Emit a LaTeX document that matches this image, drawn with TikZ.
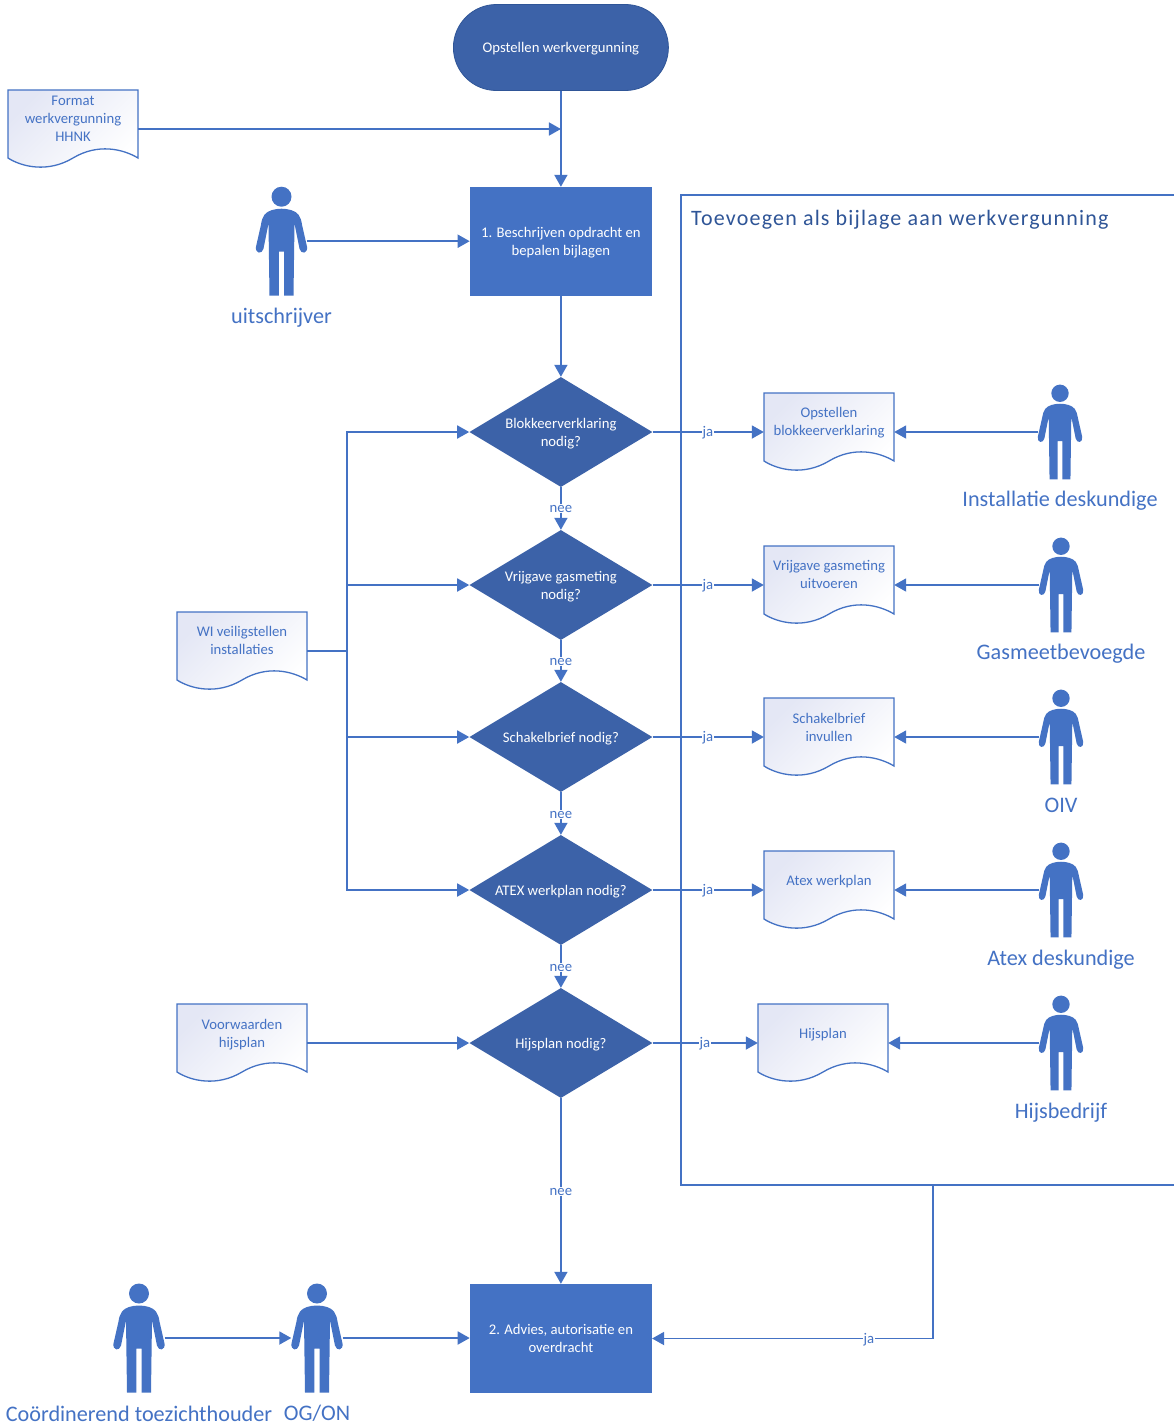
\documentclass[tikz,border=0pt]{standalone}
\usepackage{fontspec}
\setmainfont{Carlito}
\usetikzlibrary{shapes.geometric,arrows.meta,shadings}
\definecolor{mainblue}{HTML}{4472C4}
\definecolor{darkblue}{HTML}{3C62A8}
\definecolor{titleblue}{HTML}{2F5597}
\definecolor{docshade}{HTML}{E4E7F5}
\newcommand{\lowered}[1]{\raisebox{-1.5pt}[\height][\depth]{\begin{tabular}{@{}c@{}}#1\end{tabular}}}
\tikzset{
  flow/.style={draw=mainblue,line width=1.8pt,-{Triangle[length=12pt,width=13pt]}},
  plainline/.style={draw=mainblue,line width=1.8pt},
  procbox/.style={fill=mainblue,draw=none,text=white,minimum width=182pt,minimum height=109pt,inner sep=0pt,align=center,font=\fontsize{14.7}{18}\selectfont},
  decision/.style={diamond,aspect=1.65,fill=darkblue,draw=none,text=white,minimum width=183pt,minimum height=110pt,inner sep=0pt,align=center,font=\fontsize{14.7}{18}\selectfont},
  terminal/.style={fill=darkblue,draw=titleblue,line width=0.8pt,text=white,rounded corners=43pt,minimum width=215pt,minimum height=86pt,inner sep=0pt,font=\fontsize{14.7}{18}\selectfont},
  doctext/.style={text=mainblue,align=center,inner sep=0pt,font=\fontsize{14.7}{18}\selectfont},
  docbox/.style={inner sep=0pt,minimum width=130pt,minimum height=78pt},
  personbox/.style={inner sep=0pt},
  personlabel/.style={text=mainblue,inner sep=0pt,font=\fontsize{22.2}{24}\selectfont},
  edgelabel/.style={fill=white,text=mainblue,inner sep=1pt,font=\fontsize{14.7}{16}\selectfont},
}
% name, left x, top y, text, text centre offset from top
\newcommand{\docshape}[5]{%
  \begin{scope}[shift={(#2,#3)}]
  \path[shade,shading=axis,top color=docshade,bottom color=white,shading angle=45,draw=mainblue,line width=1.3pt]
    (0,0) -- (130,0) -- (130,68)
    .. controls (115,59) and (90,53) .. (65,68)
    .. controls (40,83) and (14,77) .. (0,68) -- cycle;
  \end{scope}
  \node[docbox] (#1) at (#2+65,#3+39) {};
  \node[doctext] (#1t) at (#2+65,#3+#5) {#4};
}
% name, cx, cy, scale, label, label y
\newcommand{\personshape}[6]{%
  \begin{scope}[shift={(#2,#3)},scale=#4,shift={(0,-54.5)}]
    \fill[mainblue] (0,10) ellipse [x radius=10,y radius=10];
    \fill[mainblue] (0,22) .. controls (7,22) and (14,24) .. (17,28)
      .. controls (19,31) and (20,34) .. (20.5,38) -- (25.5,60)
      .. controls (26.5,67) and (19.5,68) .. (18,62) -- (13,37) -- (12,109)
      -- (2.7,109) -- (2.7,65) -- (-2.7,65) -- (-2.7,109) -- (-12,109) -- (-13,37)
      -- (-18,62) .. controls (-19.5,68) and (-26.5,67) .. (-25.5,60) -- (-20.5,38)
      .. controls (-20,34) and (-19,31) .. (-17,28)
      .. controls (-14,24) and (-7,22) .. (0,22) -- cycle;
  \end{scope}
  \node[personbox,minimum width=#4*51pt,minimum height=#4*109pt] (#1) at (#2,#3) {};
  \node[personlabel] (#1l) at (#2,#6) {#5};
}
\begin{document}
\begin{tikzpicture}[x=1pt,y=-1pt]
\useasboundingbox (0,0) rectangle (1174,1425);
\fill[white] (0,0) rectangle (1174,1425);

% attachment frame
\draw[plainline] (1174,195) -- (681,195) -- (681,1185) -- (1174,1185);
\node[anchor=west,text=titleblue,inner sep=0pt,font=\fontsize{22}{24}\selectfont] (frametitle) at (691,219.5) {\addfontfeature{LetterSpace=5.4}Toevoegen als bijlage aan werkvergunning};
\coordinate (frameout) at (933,1185);

% process nodes
\node[terminal] (start) at (560.9,47.5) {\lowered{Opstellen werkvergunning}};
\node[procbox] (box1) at (560.9,241.5) {\lowered{1. Beschrijven opdracht en\\bepalen bijlagen}};
\node[procbox] (box2) at (560.9,1338.5) {\lowered{2. Advies, autorisatie en\\overdracht}};
\node[decision] (d1) at (560.9,432) {\lowered{Blokkeerverklaring\\nodig?}};
\node[decision] (d2) at (560.9,585) {\lowered{Vrijgave gasmeting\\nodig?}};
\node[decision] (d3) at (560.9,737) {\lowered{Schakelbrief nodig?}};
\node[decision] (d4) at (560.9,890) {\lowered{ATEX werkplan nodig?}};
\node[decision] (d5) at (560.9,1043) {\lowered{Hijsplan nodig?}};

% documents
\docshape{format}{8}{90}{Format\\werkvergunning\\HHNK}{29}
\docshape{wi}{177}{612}{WI veiligstellen\\installaties}{28}
\docshape{voorw}{177}{1004}{Voorwaarden\\hijsplan}{31}
\docshape{doc1}{764}{393}{Opstellen\\blokkeerverklaring}{30}
\docshape{doc2}{764}{546}{Vrijgave gasmeting\\uitvoeren}{28}
\docshape{doc3}{764}{698}{Schakelbrief\\invullen}{29}
\docshape{doc4}{764}{851}{Atex werkplan}{31}
\docshape{doc5}{758}{1004}{Hijsplan}{31}

% persons
\personshape{puit}{281.5}{241.2}{1}{uitschrijver}{318}
\personshape{pcoord}{139}{1338}{1}{Coördinerend toezichthouder}{1413.5}
\personshape{pog}{317}{1338}{1}{OG/ON}{1413.5}
\personshape{p1}{1060}{432}{0.87}{Installatie deskundige}{501}
\personshape{p2}{1061}{585}{0.87}{Gasmeetbevoegde}{654}
\personshape{p3}{1061}{737}{0.87}{OIV}{805}
\personshape{p4}{1061}{890}{0.87}{Atex deskundige}{960}
\personshape{p5}{1061}{1043}{0.87}{Hijsbedrijf}{1113}

% main flow
\coordinate (merge) at (start.south |- format.east);
\draw[flow] (start.south) -- (box1.north -| start.south);
\draw[flow] (format.east) -- (merge);
\draw[flow] (puit.east) -- (box1.west |- puit.east);
\draw[flow] (box1.south -| d1.north) -- (d1.north);
\draw[flow] (d1.south) -- (d2.north);
\draw[flow] (d2.south) -- (d3.north);
\draw[flow] (d3.south) -- (d4.north);
\draw[flow] (d4.south) -- (d5.north);
\draw[flow] (d5.south) -- (box2.north -| d5.south);

% WI bus
\coordinate (bus) at (346.6,651);
\draw[plainline,line width=2.6pt] (wi.east) -- (bus);
\draw[flow] (bus) |- (d1.west);
\draw[flow] (bus) |- (d2.west);
\draw[flow] (bus) |- (d3.west);
\draw[flow] (bus) |- (d4.west);
\draw[flow] (voorw.east) -- (d5.west);

% to the documents
\draw[flow] (d1.east) -- (doc1.west);
\draw[flow] (d2.east) -- (doc2.west);
\draw[flow] (d3.east) -- (doc3.west);
\draw[flow] (d4.east) -- (doc4.west);
\draw[flow] (d5.east) -- (doc5.west);
\draw[flow] (p1.west) -- (doc1.east);
\draw[flow] (p2.west) -- (doc2.east);
\draw[flow] (p3.west) -- (doc3.east);
\draw[flow] (p4.west) -- (doc4.east);
\draw[flow] (p5.west) -- (doc5.east);

% bottom
\draw[flow] (pcoord.east) -- (pog.west);
\draw[flow] (pog.east) -- (box2.west |- pog.east);
\draw[flow] (frameout) |- (box2.east);

% edge labels
\node[edgelabel] (nee1) at (560.9,508.5) {nee};
\node[edgelabel] (nee2) at (560.9,661.5) {nee};
\node[edgelabel] (nee3) at (560.9,814.5) {nee};
\node[edgelabel] (nee4) at (560.9,967.5) {nee};
\node[edgelabel] (nee5) at (560.9,1191.5) {nee};
\node[edgelabel] (ja1) at (708,433) {ja};
\node[edgelabel] (ja2) at (708,586) {ja};
\node[edgelabel] (ja3) at (708,738) {ja};
\node[edgelabel] (ja4) at (708,891) {ja};
\node[edgelabel] (ja5) at (705,1044) {ja};
\node[edgelabel] (ja6) at (869,1339.5) {ja};
\end{tikzpicture}
\end{document}
